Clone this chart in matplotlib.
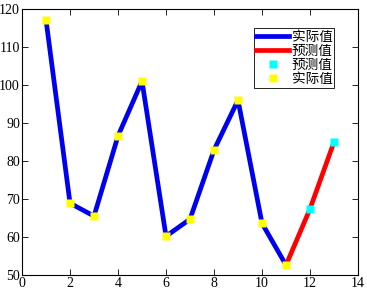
import matplotlib
matplotlib.use("Agg")
import matplotlib.pyplot as plt
from matplotlib.lines import Line2D

x_actual = [1, 2, 3, 4, 5, 6, 7, 8, 9, 10, 11]
y_actual = [117.1, 68.9, 65.5, 86.6, 101.0, 60.2, 64.7, 82.9, 96.0, 63.6, 52.6]
x_pred = [11, 12, 13]
y_pred = [52.6, 67.4, 85.0]
x_pred_pts = [12, 13]
y_pred_pts = [67.4, 85.0]
legend_labels = ["实际值", "预测值", "预测值", "实际值"]

plt.rcParams['font.family'] = ['Liberation Serif', 'Noto Sans CJK SC']
fig = plt.figure(figsize=(3.67, 2.91), dpi=100)
ax = fig.add_axes([0.060, 0.055, 0.9155, 0.914])

ax.plot(x_actual, y_actual, color='#0000f0', lw=3.4, zorder=2)
ax.plot(x_pred, y_pred, color='#ff0000', lw=3.4, zorder=2)
ax.plot(x_pred_pts, y_pred_pts, 's', color='#00ffff', ms=6.3, mec='none', zorder=3)
ax.plot(x_actual, y_actual, 's', color='#ffff00', ms=6.3, mec='none', zorder=3)

ax.set_xlim(0, 14)
ax.set_ylim(50, 120)
ax.set_xticks(range(0, 15, 2))
ax.set_yticks(range(50, 121, 10))
ax.tick_params(direction='in', top=True, right=True, labelsize=10, length=4, width=0.6, pad=1.5)
for s in ax.spines.values():
    s.set_linewidth(0.8)

handles = [
    Line2D([], [], color='#0000f0', lw=3.4),
    Line2D([], [], color='#ff0000', lw=3.4),
    Line2D([], [], marker='s', ls='none', color='#00ffff', ms=6.3, mec='none'),
    Line2D([], [], marker='s', ls='none', color='#ffff00', ms=6.3, mec='none'),
]
leg = ax.legend(handles, legend_labels, loc='upper right', bbox_to_anchor=(0.93, 0.93),
                prop={'family': ['Noto Sans CJK SC'], 'size': 9.8},
                fancybox=False, framealpha=1, edgecolor='black',
                borderpad=0.15, labelspacing=0.0, handlelength=2.4, handletextpad=0.2,
                borderaxespad=0)
leg.get_frame().set_linewidth(0.6)

fig.savefig("out.png", dpi=100)
